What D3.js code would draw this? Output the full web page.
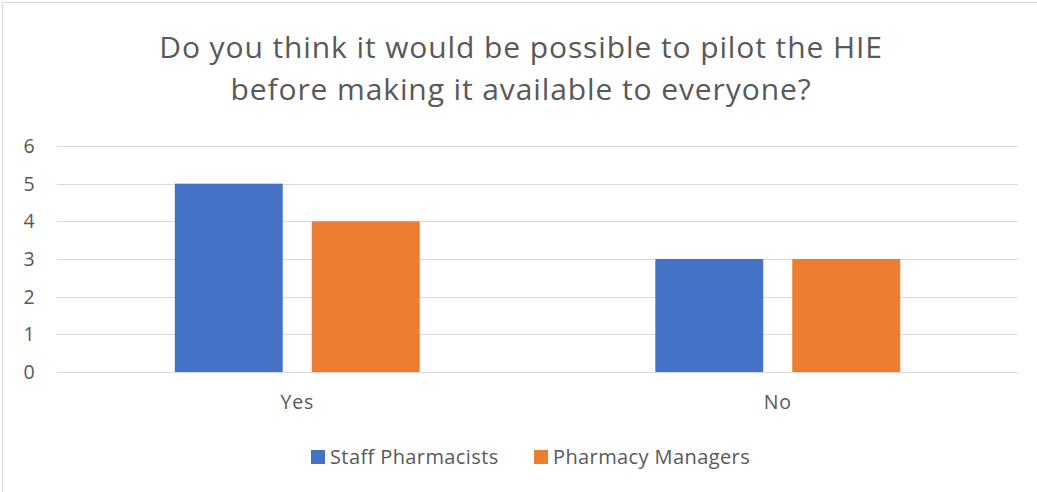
<!DOCTYPE html>
<html>
<head>
<meta charset="utf-8">
<script src="https://cdn.jsdelivr.net/npm/d3@7"></script>
<style>
  body { margin: 0; background: #fff; }
  text { font-family: "Open Sans", "Noto Sans", sans-serif; fill: #595959; }
</style>
</head>
<body>
<script>
// data
var categories = ["Yes", "No"];
var seriesNames = ["Staff Pharmacists", "Pharmacy Managers"];
var staffPharmacists = [5, 3];
var pharmacyManagers = [4, 3];
var yTicks = [0, 1, 2, 3, 4, 5, 6];
var colors = ["#4472C4", "#ED7D31"];

var W = 1037, H = 492;
var svg = d3.select("body").append("svg").attr("width", W).attr("height", H);

// outer frame
svg.append("rect").attr("x", 2.5).attr("y", 2.5).attr("width", W + 10).attr("height", H + 10)
   .attr("fill", "none").attr("stroke", "#d9d9d9").attr("stroke-width", 1);

// title
var title = svg.append("text").attr("text-anchor", "middle").attr("font-size", 30)
   .attr("letter-spacing", 0.9);
title.append("tspan").attr("x", 521).attr("y", 58).text("Do you think it would be possible to pilot the HIE");
title.append("tspan").attr("x", 521).attr("y", 100).text("before making it available to everyone?");

var x0 = d3.scaleBand().domain(categories).range([57, 1018]);
var x1 = d3.scaleBand().domain(seriesNames).range([0, x0.bandwidth()]).paddingInner(0.212).paddingOuter(0.86);
var y = d3.scaleLinear().domain([0, 6]).range([372, 146]);

// grid
svg.append("g").selectAll("line").data(yTicks).enter().append("line")
   .attr("x1", 57).attr("x2", 1018)
   .attr("y1", function (d) { return Math.round(y(d)) + 0.5; })
   .attr("y2", function (d) { return Math.round(y(d)) + 0.5; })
   .attr("stroke", "#d9d9d9").attr("stroke-width", 1);

// y labels
svg.append("g").selectAll("text").data(yTicks).enter().append("text")
   .attr("x", 29).attr("y", function (d) { return y(d) + 7; })
   .attr("text-anchor", "middle")
   .attr("font-size", 19.5).text(function (d) { return d; });

// bars
var rows = categories.map(function (c, i) {
  return { cat: c, vals: [staffPharmacists[i], pharmacyManagers[i]] };
});
var grp = svg.append("g").selectAll("g").data(rows).enter().append("g")
   .attr("transform", function (d) { return "translate(" + x0(d.cat) + ",0)"; });
grp.selectAll("rect").data(function (d) {
    return d.vals.map(function (v, j) { return { name: seriesNames[j], v: v, j: j }; });
  }).enter().append("rect")
   .attr("x", function (d) { return x1(d.name); })
   .attr("width", x1.bandwidth())
   .attr("y", function (d) { return y(d.v); })
   .attr("height", function (d) { return y(0) - y(d.v); })
   .attr("fill", function (d) { return colors[d.j]; });

// x labels
svg.append("g").selectAll("text").data(categories).enter().append("text")
   .attr("x", function (d) { return x0(d) + x0.bandwidth() / 2; })
   .attr("y", 409).attr("text-anchor", "middle").attr("letter-spacing", 0.8)
   .attr("font-size", 19.5).text(function (d) { return d; });

// legend
var legX = [311, 534];
var leg = svg.append("g").selectAll("g").data(seriesNames).enter().append("g")
   .attr("transform", function (d, i) { return "translate(" + legX[i] + ",450)"; });
leg.append("rect").attr("width", 14).attr("height", 14).attr("fill", function (d, i) { return colors[i]; });
leg.append("text").attr("x", 19).attr("y", 14).attr("letter-spacing", 0.4)
   .attr("font-size", 20).text(function (d) { return d; });
</script>
</body>
</html>
